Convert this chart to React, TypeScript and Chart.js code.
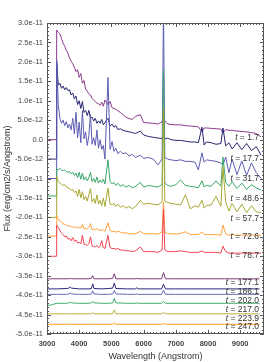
import React, { useEffect, useRef } from 'react';
import { Chart, registerables } from 'chart.js';

Chart.register(...registerables);

// Flux values are in units of 1e-12 erg/cm2/s/Angstrom (offsets included, as plotted)
const FLUX_UNIT = 1e-12;

const X_TICKS = [3000, 4000, 5000, 6000, 7000, 8000, 9000];
const Y_TICKS = [-50, -45, -40, -35, -30, -25, -20, -15, -10, -5, 0, 5, 10, 15, 20, 25, 30];

// Wavelength grid (Angstrom) for the early spectra
const WAVE_EARLY = [
  3000, 3290, 3300, 3350, 3400, 3450, 3500, 3550, 3600, 3650,
  3700, 3750, 3800, 3850, 3900, 3950, 4000, 4050, 4100, 4150,
  4200, 4250, 4300, 4350, 4400, 4450, 4500, 4550, 4600, 4650,
  4700, 4750, 4800, 4894, 4960, 5020, 5080, 5140, 5200, 5280,
  5360, 5450, 5550, 5650, 5750, 5900, 6000, 6150, 6300, 6450,
  6575, 6618, 6660, 6750, 6850, 7000, 7150, 7300, 7450, 7600,
  7700, 7814, 7880, 7950, 8100, 8250, 8400, 8466, 8550, 8650,
  8750, 8900, 9050, 9200, 9350, 9500, 9650,
];

const FLUX_T1_7 = [
  0, 0, 28.2, 27.6, 27.2, 26, 24.8, 24, 23, 22.2,
  21, 20.2, 19.5, 18.6, 17.5, 18, 16, 17, 14.5, 15.2,
  13, 12.5, 11.8, 11.5, 10.6, 10.2, 9.8, 9.4, 9.2, 8.8,
  9.6, 8.6, 10.2, 9.0, 9.8, 8.2, 8, 7.8, 7.4, 7,
  6.4, 5.8, 5.4, 5.2, 6, 6.4, 4.4, 4.3, 4.2, 4.0,
  4.6, 6.6, 4.8, 4.0, 3.9, 3.8, 3.8, 3.6, 3.5, 3.4,
  3.3, 2.0, 3.0, 3.0, 2.9, 2.8, 2.7, 1.8, 2.6, 2.4,
  2.4, 2.2, 2.1, 2.0, 1.8, 1.6, 0.7,
];

const FLUX_T17_7 = [
  -5, -5, 20, 14, 14.5, 13.2, 13.8, 12.8, 13.4, 12.6,
  12.8, 11.5, 12, 10.5, 11.2, 9, 10, 8, 9.8, 7,
  7.5, 6.2, 7.5, 5.5, 5.8, 4.8, 5.5, 4.2, 4.8, 4.2,
  5.2, 3.8, 4.4, 5.5, 3.5, 4, 3.2, 3.6, 2.6, 2.8,
  2.4, 2.2, 2.0, 1.8, 1.6, 2.2, 1.2, 0.8, 0.6, 0.4,
  0.3, 1.2, 0.2, 0.4, 0.0, -0.2, -0.2, -0.4, -0.6, -0.6,
  -0.8, 3.2, -1.4, -0.6, -0.8, -1.2, -1.0, 3.0, -1.6, -0.8,
  -2.4, -0.8, -2.6, -1.0, -2.8, -1.8, -4.0,
];

const FLUX_T31_7 = [
  -10, -10, 20.5, 9, 5.5, 4.2, 5, 3.6, 4.6, 3,
  4, 2.5, 5.5, 1.5, 7, 0.5, 4.5, -0.8, 7.5, 0.2,
  2, -1.5, 1, 6.5, -1.2, 0.5, -1.5, 2.5, -2.2, 0,
  -2.5, -1.5, -5, 16, -2.5, -0.5, -3, -2.2, -3.6, -3,
  -3.6, -3.4, -4.2, -3.8, -4.6, -4.0, -4.8, -4.6, -5, -6.5,
  -5, 34, -4.6, -5, -5.2, -5.4, -5.2, -5.6, -5.6, -5.8,
  -7.8, -3.4, -5.8, -5.2, -5.4, -5.6, -6, -6.5, -4.5, -8.5,
  -5, -9, -5.5, -9.2, -6, -8.5, -10,
];

const FLUX_T48_6 = [
  -14.5, -14.5, -7.5, -7.8, -7.4, -7.8, -8, -7.8, -8.2, -8.4,
  -8.2, -8.8, -8.4, -9.2, -8.6, -9.8, -8.4, -10.2, -8.6, -10.4,
  -9.6, -10.6, -9.8, -8.4, -10.8, -10, -11, -9.6, -11.2, -10.4,
  -11, -10.2, -11.4, -5.2, -10.8, -11.4, -11, -11.8, -11.2, -12,
  -11.6, -12.2, -11.8, -12.4, -12, -11, -12.2, -11.8, -12, -12.2,
  -11.5, 18, -11.2, -11.8, -12, -11.6, -10.4, -11.8, -12, -12.2,
  -12.4, -10.6, -12.2, -11.8, -12, -10.6, -12, -4.5, -11, -12,
  -10.8, -12.6, -11.2, -12.8, -11.6, -12.4, -13,
];

const FLUX_T57_7 = [
  -20, -20, -9.5, -10.8, -11.2, -11.5, -11.8, -11.6, -12.2, -12.4,
  -12.6, -13, -12.8, -13.6, -13.2, -14.6, -12.8, -15, -13.4, -15.4,
  -14.6, -15.8, -14.2, -12.6, -16, -15.2, -16.4, -14.2, -16.6, -15.6,
  -17, -15, -17.2, -12.5, -16.6, -16.8, -16.4, -17.2, -16.6, -17.4,
  -17, -17.6, -17.2, -17.8, -17.2, -15.6, -16.6, -16.4, -16.6, -16.8,
  -16, 8, -15.8, -16.2, -16.4, -16.6, -16.8, -14.2, -17.8, -17,
  -17.4, -15.6, -17.6, -17, -16.8, -14.6, -17.2, -7, -16, -18.4,
  -16.4, -18.6, -16.6, -18.8, -17, -18.6, -18.8,
];

const FLUX_T72_6 = [
  -24.8, -24.8, -19.5, -20.4, -21, -21.2, -21.6, -21.8, -22, -22.2,
  -22.2, -22.4, -22.4, -22.6, -22.4, -22.8, -22.6, -22.8, -21.8, -23,
  -22.8, -23, -22.6, -21.6, -23.2, -23, -23.2, -22.8, -23.4, -23.2,
  -23.4, -23.2, -23.6, -21.4, -23.4, -23.6, -23.6, -23.8, -23.6, -23.8,
  -24, -24, -24.2, -24.2, -24.2, -23.6, -24.2, -24.2, -24.2, -24.3,
  -23.8, -16, -23.8, -24.2, -24.2, -24.3, -24.1, -23.7, -24.4, -24.4,
  -24.4, -23.8, -24.4, -24.4, -24.5, -24.4, -24.6, -22, -24.2, -24.6,
  -24.4, -24.6, -24.5, -24.6, -24.5, -24.6, -24.6,
];

const FLUX_T78_7 = [
  -30, -30, -22, -22.6, -23.4, -24, -24.4, -25, -24.8, -25.6,
  -25.4, -26, -25.2, -26.2, -25.8, -26.6, -26.4, -26.8, -24.6, -27,
  -27, -27.2, -26.8, -25, -27.4, -27.4, -27.6, -27.2, -27.8, -27.4,
  -26, -27.8, -28, -24.6, -27.8, -28, -28, -28.2, -28, -28.4,
  -28.4, -28.6, -28.6, -28.8, -28.6, -27.6, -28.8, -28.8, -28.8, -29,
  -28.4, -18, -28.4, -28.8, -28.8, -28.8, -28.6, -28.8, -29, -29,
  -29, -28.6, -29, -29, -29, -29, -29.2, -27.4, -28.8, -29.2,
  -29.2, -29.2, -29.2, -29.2, -29.2, -29.2, -29.2,
];

// Wavelength grid (Angstrom) for the late spectra
const WAVE_LATE = [
  3000, 3100, 3300, 3600, 3680, 3720, 3760, 4000, 4300, 4380,
  4420, 4460, 4700, 4900, 5040, 5090, 5140, 5500, 5750, 5790,
  5830, 6200, 6560, 6618, 6680, 7000, 7500, 8000, 8500, 9000,
  9600,
];

const FLUX_T177_1 = [
  -35.8, -35.8, -35.8, -35.8, -35.8, -35.7, -35.8, -35.8, -35.8, -35.7,
  -35.0, -35.8, -35.8, -35.8, -35.7, -34.5, -35.8, -35.8, -35.8, -35.7,
  -35.8, -35.8, -35.8, -34.2, -35.8, -35.8, -35.8, -35.8, -35.8, -35.8,
  -35.8,
];

const FLUX_T186_1 = [
  -38.4, -38.4, -38.4, -38.3, -38.2, -37.9, -38.2, -38.4, -38.4, -38.3,
  -37.1, -38.3, -38.4, -38.3, -38.2, -36.9, -38.3, -38.4, -38.4, -38.1,
  -38.4, -38.4, -38.4, -37.2, -38.4, -38.4, -38.4, -38.4, -38.4, -38.4,
  -38.4,
];

const FLUX_T202_0 = [
  -39.8, -39.8, -39.8, -39.8, -39.7, -39.5, -39.7, -39.8, -39.8, -39.7,
  -38.9, -39.7, -39.8, -39.8, -39.7, -38.8, -39.7, -39.8, -39.8, -39.7,
  -39.8, -39.8, -39.8, -38.7, -39.8, -39.8, -39.8, -39.8, -39.8, -39.8,
  -39.8,
];

const FLUX_T217_0 = [
  -42.6, -42.6, -42.1, -42.1, -42.0, -41.8, -42.0, -42.1, -42.1, -42.0,
  -41.6, -42.0, -42.1, -42.1, -42.0, -40.8, -42.0, -42.1, -42.1, -42.0,
  -42.1, -42.1, -42.1, -41.6, -42.1, -42.1, -42.1, -42.1, -42.1, -42.1,
  -42.1,
];

const FLUX_T223_9 = [
  -44.8, -44.8, -44.8, -44.8, -44.8, -44.8, -44.8, -44.8, -44.8, -44.8,
  -44.5, -44.8, -44.8, -44.8, -44.8, -43.8, -44.8, -44.8, -44.8, -44.8,
  -44.8, -44.8, -44.8, -44.5, -44.8, -44.8, -44.8, -44.8, -44.8, -44.8,
  -44.8,
];

const FLUX_T247_0 = [
  -47.5, -47.5, -47.5, -47.5, -47.5, -47.5, -47.5, -47.5, -47.5, -47.5,
  -47.5, -47.5, -47.5, -47.5, -47.5, -47.1, -47.5, -47.5, -47.5, -47.5,
  -47.5, -47.5, -47.5, -47.3, -47.5, -47.5, -47.5, -47.5, -47.5, -47.5,
  -47.5,
];

// Epoch labels (days) and the flux level at which each label sits
const EPOCHS = ['1.7', '17.7', '31.7', '48.6', '57.7', '72.6', '78.7', '177.1', '186.1', '202.0', '217.0', '223.9', '247.0'];
const LABEL_LEVELS = [0.4, -5.0, -10.1, -15.2, -20.4, -24.9, -29.9, -36.8, -39.1, -41.5, -43.8, -46.1, -48.1];

const EARLY_COLORS = ['#8a3a8a', '#26266e', '#5c5cb4', '#3aa86a', '#a8a832', '#ffa040', '#f04452'];
const LATE_COLORS = ['#7a3a7a', '#28287a', '#6a6ab8', '#40aa70', '#b5b545', '#ff9a1a'];

const FONT = '"Liberation Sans", Arial, Helvetica, sans-serif';

const framePlugin = {
  id: 'frame',
  afterDatasetsDraw(chart: any) {
    const { ctx, chartArea: a, scales } = chart;
    const xs = scales.x;
    const ys = scales.y;
    ctx.save();
    ctx.strokeStyle = '#555';
    ctx.lineWidth = 1;
    ctx.strokeRect(Math.round(a.left) + 0.5, Math.round(a.top) + 0.5, Math.round(a.right - a.left) - 1, Math.round(a.bottom - a.top) - 1);
    ctx.beginPath();
    for (let w = 3000; w <= xs.max; w += 100) {
      const px = Math.round(xs.getPixelForValue(w)) + 0.5;
      const len = w % 1000 === 0 ? 4 : 2;
      ctx.moveTo(px, a.bottom);
      ctx.lineTo(px, a.bottom - len);
      ctx.moveTo(px, a.top);
      ctx.lineTo(px, a.top + len);
    }
    for (let v = ys.min; v <= ys.max; v += 1) {
      const py = Math.round(ys.getPixelForValue(v)) + 0.5;
      const len = v % 5 === 0 ? 4 : 2;
      ctx.moveTo(a.left, py);
      ctx.lineTo(a.left + len, py);
      ctx.moveTo(a.right, py);
      ctx.lineTo(a.right - len, py);
    }
    ctx.stroke();
    ctx.restore();
  },
};

const labelPlugin = {
  id: 'epochLabels',
  afterDatasetsDraw(chart: any) {
    const { ctx, chartArea: a, scales } = chart;
    ctx.save();
    ctx.fillStyle = '#333';
    ctx.textBaseline = 'middle';
    ctx.textAlign = 'left';
    EPOCHS.forEach((ep, i) => {
      const y = scales.y.getPixelForValue(LABEL_LEVELS[i]);
      const rest = ' = ' + ep;
      ctx.font = `8.5px ${FONT}`;
      const wRest = ctx.measureText(rest).width;
      ctx.font = `italic 8.5px ${FONT}`;
      const wT = ctx.measureText('t').width;
      const right = a.right - 5;
      ctx.fillText('t', right - wRest - wT, y);
      ctx.font = `8.5px ${FONT}`;
      ctx.fillText(rest, right - wRest, y);
    });
    ctx.restore();
  },
};

export default function App() {
  const ref = useRef<HTMLCanvasElement>(null);

  useEffect(() => {
    if (!ref.current) return;
    const early = [FLUX_T1_7, FLUX_T17_7, FLUX_T31_7, FLUX_T48_6, FLUX_T57_7, FLUX_T72_6, FLUX_T78_7];
    const late = [FLUX_T177_1, FLUX_T186_1, FLUX_T202_0, FLUX_T217_0, FLUX_T223_9, FLUX_T247_0];
    const datasets: any[] = [];
    early.forEach((f, i) => {
      datasets.push({
        label: 't = ' + EPOCHS[i],
        data: WAVE_EARLY.map((w, j) => ({ x: w, y: f[j] })),
        borderColor: EARLY_COLORS[i],
        borderWidth: 1,
        pointRadius: 0,
        fill: false,
        order: -i,
      });
    });
    late.forEach((f, i) => {
      datasets.push({
        label: 't = ' + EPOCHS[i + 7],
        data: WAVE_LATE.map((w, j) => ({ x: w, y: f[j] })),
        borderColor: LATE_COLORS[i],
        borderWidth: 1,
        pointRadius: 0,
        fill: false,
        order: -(i + 7),
      });
    });

    const chart = new Chart(ref.current, {
      type: 'line',
      data: { datasets },
      options: {
        animation: false,
        responsive: false,
        maintainAspectRatio: false,
        layout: { padding: { top: 23, right: 12, left: 0, bottom: 0 } },
        plugins: { legend: { display: false }, tooltip: { enabled: false } },
        elements: { line: { tension: 0 }, point: { radius: 0 } },
        scales: {
          x: {
            type: 'linear',
            min: 3000,
            max: 9740,
            afterBuildTicks: (s: any) => { s.ticks = X_TICKS.map((v) => ({ value: v })); },
            afterFit: (s: any) => { s.height = 28; },
            grid: { display: false, drawTicks: false },
            border: { display: false },
            ticks: {
              autoSkip: false,
              maxRotation: 0,
              minRotation: 0,
              padding: 5,
              color: '#444',
              font: { family: FONT, size: 7.5, weight: 'bold' },
              callback: (v: any) => String(v),
            },
            title: {
              display: true,
              text: 'Wavelength (Angstrom)',
              color: '#333',
              font: { family: FONT, size: 9 },
              padding: { top: 0, bottom: 0 },
            },
          },
          y: {
            type: 'linear',
            min: -50,
            max: 30,
            afterBuildTicks: (s: any) => { s.ticks = Y_TICKS.map((v) => ({ value: v })); },
            afterFit: (s: any) => { s.width = 47; },
            grid: { display: false, drawTicks: false },
            border: { display: false },
            ticks: {
              autoSkip: false,
              padding: 4,
              color: '#444',
              font: { family: FONT, size: 7.5 },
              callback: (v: any) => (v === 0 ? '0.0' : (v * FLUX_UNIT).toExponential(1)),
            },
            title: {
              display: true,
              text: 'Flux (erg/cm2/s/Angstrom)',
              color: '#333',
              font: { family: FONT, size: 9 },
              padding: { top: 2, bottom: 0 },
            },
          },
        },
      } as any,
      plugins: [framePlugin, labelPlugin],
    });
    return () => chart.destroy();
  }, []);

  return (
    <div style={{ position: 'fixed', left: 0, top: 0, width: 276, height: 362, background: '#fff' }}>
      <canvas ref={ref} width={276} height={362} style={{ display: 'block' }} />
    </div>
  );
}
